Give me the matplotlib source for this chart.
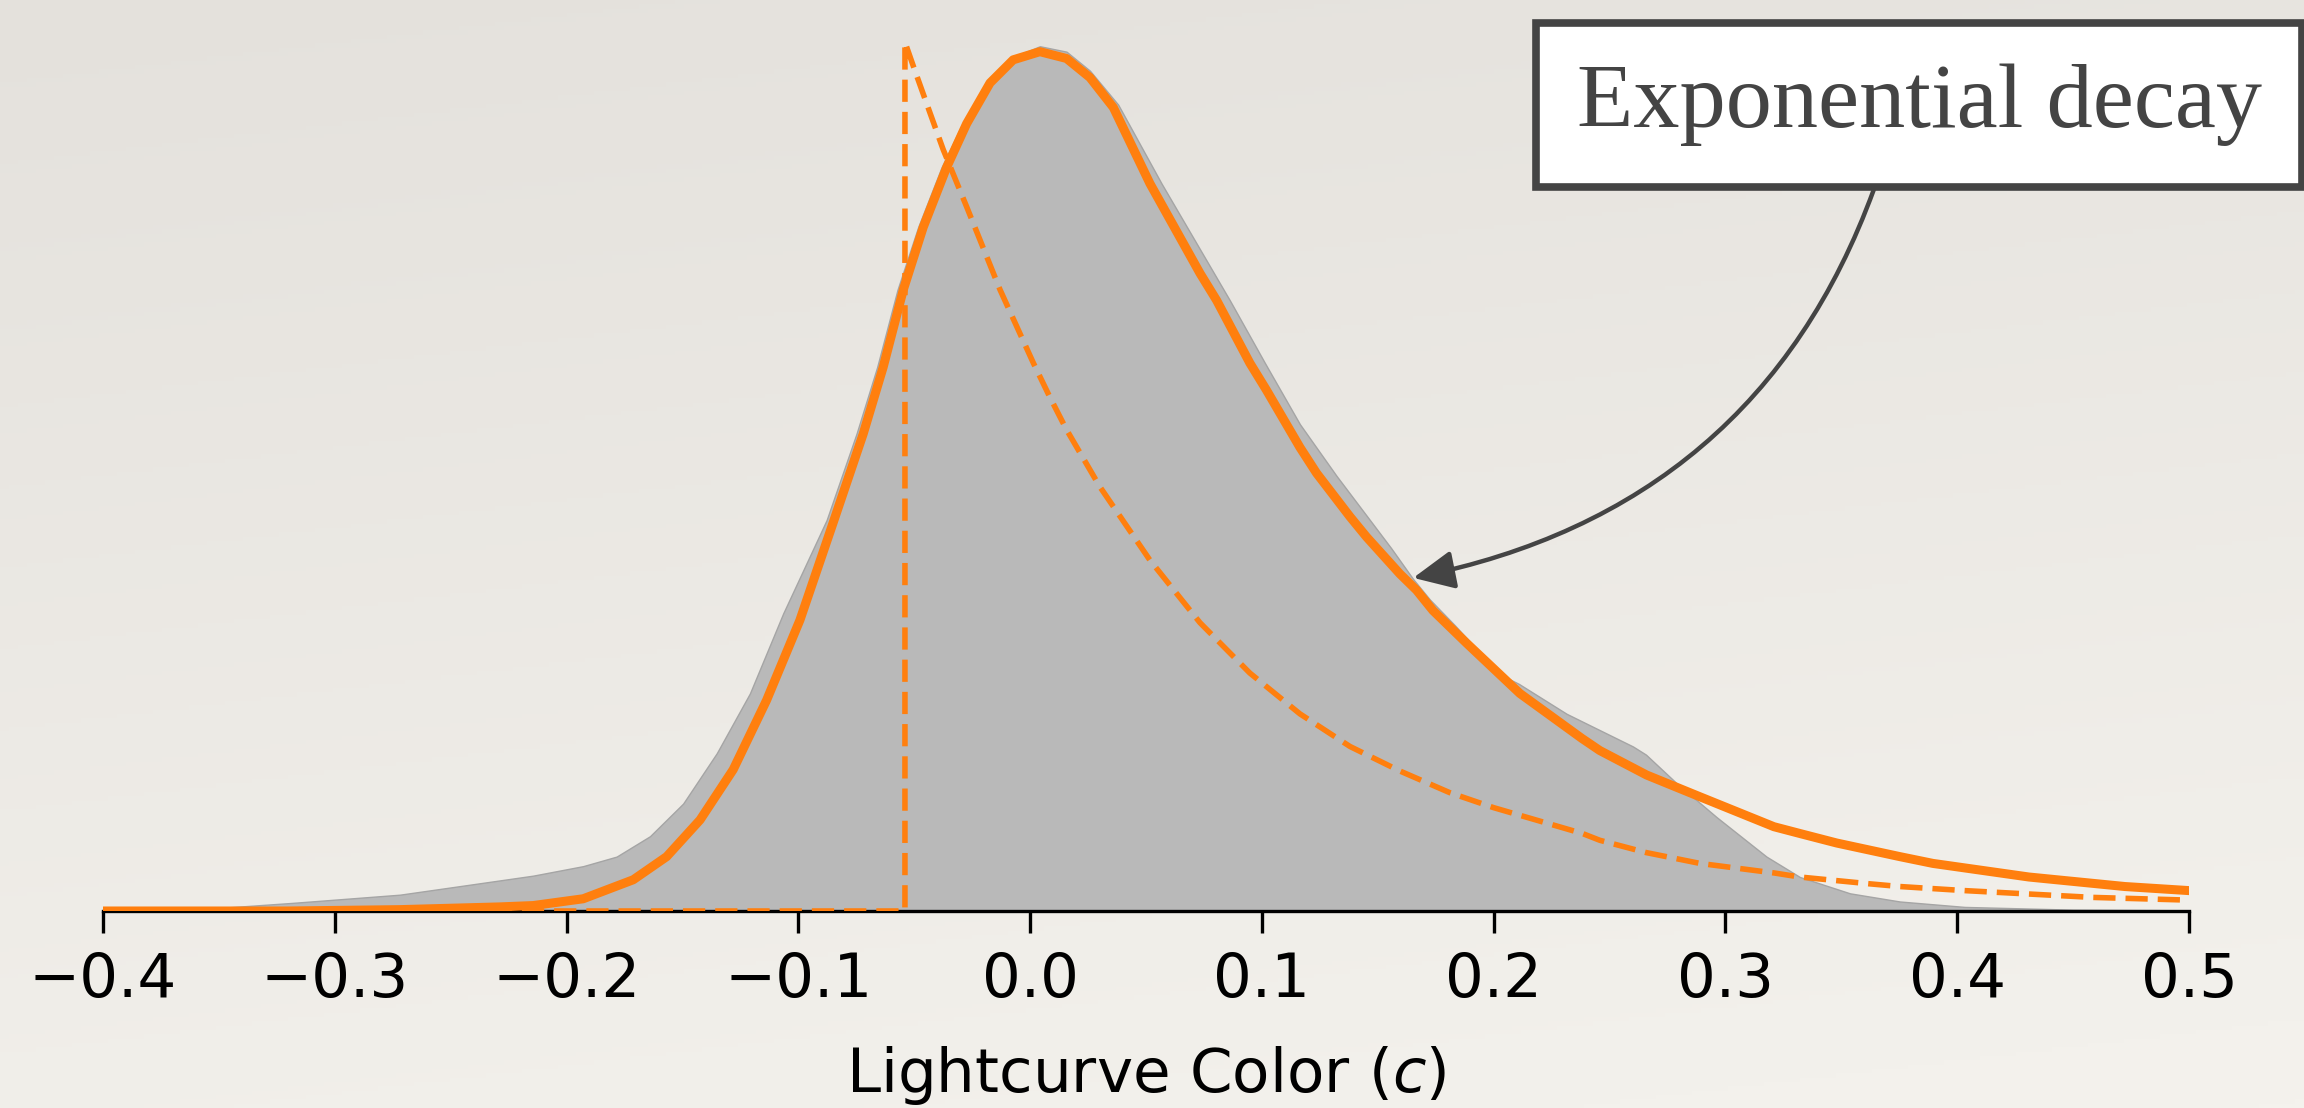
import numpy as np
import matplotlib
matplotlib.use("Agg")
import matplotlib.pyplot as plt
from matplotlib.colors import LinearSegmentedColormap

# Values (density, arbitrary units)
#
# Gray: distribution of the sample
sample_x = [-0.400, -0.356, -0.318, -0.2719, -0.2431, -0.2144, -0.1928, -0.1784, -0.1640, -0.1497,
            -0.1352, -0.1209, -0.1065, -0.0878, -0.0749, -0.0660, -0.0572, -0.0483, -0.0382, -0.0292,
            -0.0188, -0.0088, 0.0042, 0.0157, 0.0258, 0.0380, 0.0567, 0.0862, 0.1013, 0.1164,
            0.1322, 0.1557, 0.1653, 0.1725, 0.1833, 0.2027, 0.2109, 0.2315, 0.2601, 0.2657,
            0.2789, 0.2962, 0.3177, 0.3321, 0.3537, 0.3752, 0.4032, 0.450, 0.500]
sample_y = [0.00, 0.015, 0.06, 0.12, 0.19, 0.26, 0.33, 0.40, 0.55, 0.79,
            1.16, 1.60, 2.19, 2.875, 3.51, 4.00, 4.57, 5.03, 5.47, 5.79,
            6.09, 6.27, 6.36, 6.32, 6.18, 5.93, 5.35, 4.49, 4.03, 3.58,
            3.20, 2.67, 2.44, 2.29, 2.10, 1.74, 1.67, 1.45, 1.21, 1.15,
            0.94, 0.69, 0.40, 0.25, 0.13, 0.07, 0.03, 0.01, 0.005]
#
# Solid orange: fitted model
model_x = [-0.400, -0.320, -0.272, -0.229, -0.2144, -0.1928, -0.1712, -0.1568, -0.1424, -0.1281,
           -0.1137, -0.0993, -0.0849, -0.0720, -0.0634, -0.0547, -0.0461, -0.0360, -0.0274, -0.0173,
           -0.0073, 0.0042, 0.0157, 0.0258, 0.0359, 0.0517, 0.0733, 0.0805, 0.0948, 0.1020,
           0.1164, 0.1236, 0.1380, 0.1452, 0.1595, 0.1667, 0.1738, 0.1883, 0.2113, 0.238,
           0.2458, 0.266, 0.289, 0.3209, 0.3321, 0.348, 0.3752, 0.3895, 0.4309, 0.4723, 0.500]
model_y = [0.00, 0.00, 0.01, 0.03, 0.04, 0.09, 0.23, 0.40, 0.67, 1.04,
           1.55, 2.14, 2.86, 3.51, 4.00, 4.57, 5.03, 5.47, 5.79, 6.09,
           6.26, 6.32, 6.27, 6.13, 5.91, 5.35, 4.69, 4.49, 4.03, 3.83,
           3.41, 3.22, 2.90, 2.75, 2.48, 2.36, 2.21, 1.97, 1.60, 1.27,
           1.18, 1.00, 0.84, 0.62, 0.57, 0.50, 0.40, 0.35, 0.25, 0.18, 0.15]
#
# Dashed orange: exponential decay component
exp_x = [-0.400, -0.054, -0.054, -0.0497, -0.0432, -0.0375, -0.0274, -0.0130, 0.0014, 0.0085,
         0.0157, 0.0301, 0.0517, 0.0733, 0.0948, 0.1164, 0.1380, 0.1595, 0.1811, 0.2000,
         0.2383, 0.2458, 0.2657, 0.289, 0.3209, 0.3321, 0.3621, 0.3752, 0.4032, 0.4584, 0.500]
exp_y = [0.00, 0.00, 6.39, 6.18, 5.87, 5.60, 5.18, 4.57, 4.03, 3.78,
         3.54, 3.12, 2.58, 2.12, 1.75, 1.45, 1.21, 1.03, 0.87, 0.76,
         0.57, 0.52, 0.43, 0.35, 0.28, 0.25, 0.20, 0.18, 0.15, 0.10, 0.08]

x_ticks = [-0.4, -0.3, -0.2, -0.1, 0.0, 0.1, 0.2, 0.3, 0.4, 0.5]
x_label = 'Lightcurve Color ($c$)'
note_text = 'Exponential decay'
note_point = (0.1653, 2.45)  #where the arrow points

orange = '#FF7F0E'
ink = '#444444'

fig = plt.figure(figsize=(23.04, 11.08), dpi=100)

#paper-like background
bg = fig.add_axes([0, 0, 1, 1], zorder=-10)
paper = LinearSegmentedColormap.from_list('paper', ['#E4E1DC', '#F4F2ED'])
grad = np.linspace(0, 1, 256)[:, np.newaxis] * 0.8 + np.linspace(0, 1, 256)[np.newaxis, :] * 0.2
bg.imshow(grad, aspect='auto', cmap=paper, extent=[0, 1, 0, 1])
bg.axis('off')

ax = fig.add_axes([0.0447, 0.1778, 0.9054, 0.8222])
ax.patch.set_alpha(0)

ax.fill_between(sample_x, sample_y, 0, facecolor='#B9B9B9', edgecolor='#A5A5A5', linewidth=1, zorder=1)
ax.plot(model_x, model_y, color=orange, lw=6.5, solid_joinstyle='round', zorder=3)
ax.plot(exp_x, exp_y, color=orange, lw=4, dashes=(4.0, 1.8), zorder=4)

ax.set_xlim(-0.4, 0.5)
ax.set_ylim(0, 6.70)
for side in ['left', 'right', 'top']:
    ax.spines[side].set_visible(False)
ax.spines['bottom'].set_linewidth(2.4)
ax.set_yticks([])
ax.set_xticks(x_ticks)
ax.tick_params(axis='x', length=15.6, width=2.4, labelsize=44, pad=13)
ax.set_xlabel(x_label, fontsize=44, labelpad=25)

ax.annotate(note_text, xy=note_point, xycoords='data',
            xytext=(0.8329, 0.9052), textcoords='figure fraction',
            ha='center', va='center', fontsize=66.5, family='Liberation Serif', color=ink,
            bbox=dict(boxstyle='square,pad=0.44', facecolor='white', edgecolor=ink, linewidth=5.5),
            arrowprops=dict(arrowstyle='-|>,head_length=1.0,head_width=0.47', color=ink, lw=3.2,
                            mutation_scale=25, shrinkA=0, shrinkB=0, relpos=(0.455, 0),
                            connectionstyle='arc3,rad=-0.3'),
            annotation_clip=False)

plt.savefig('out.png', dpi=100)
